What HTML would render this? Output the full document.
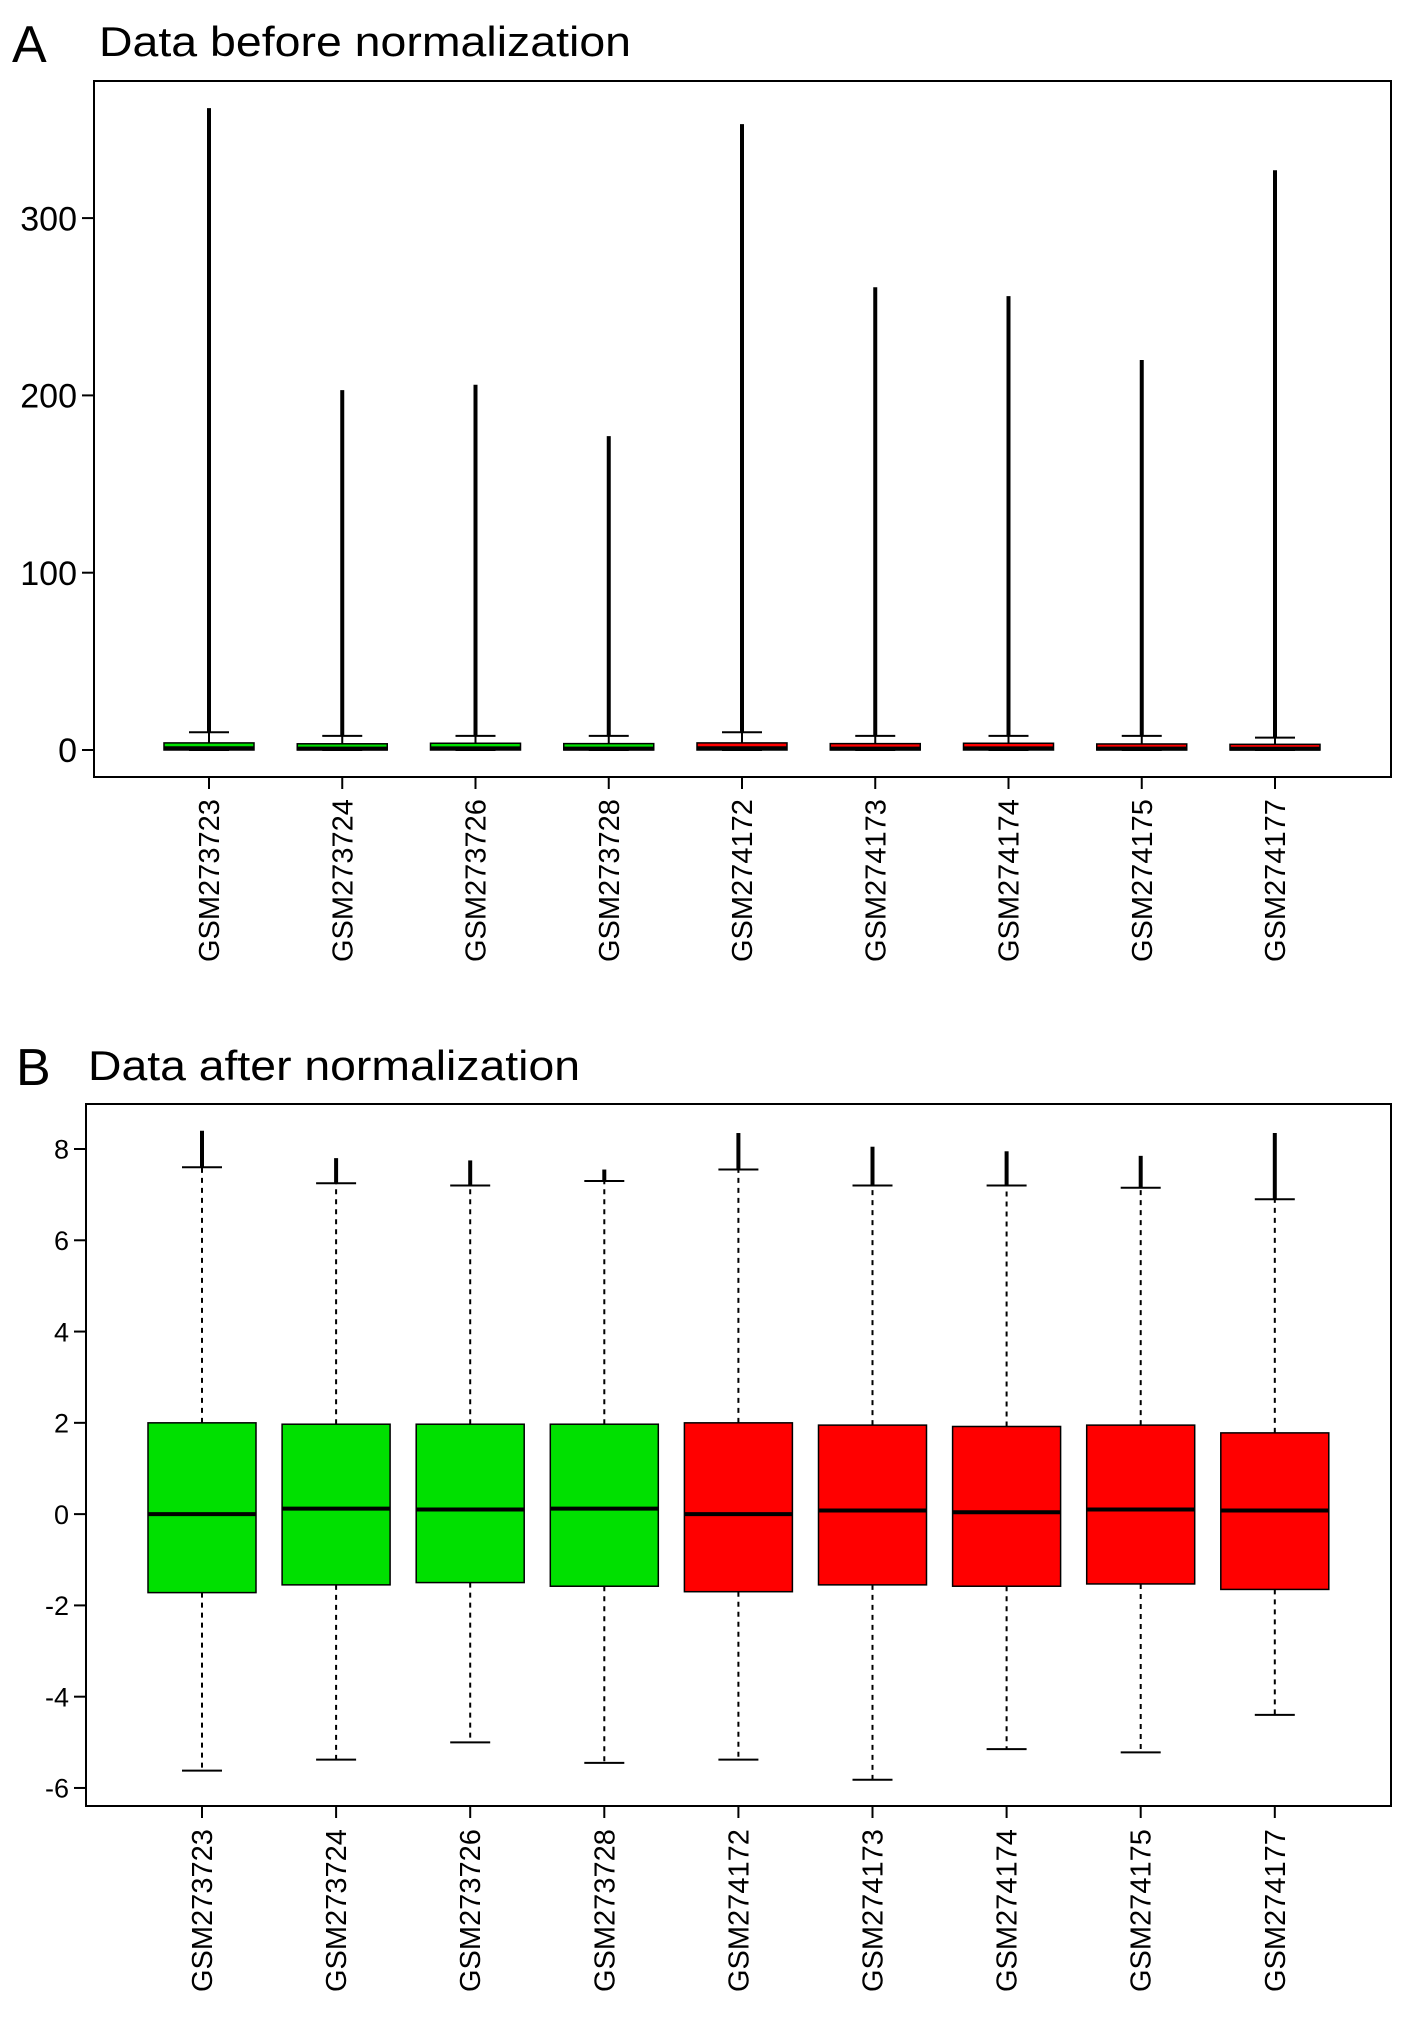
<!DOCTYPE html>
<html><head><meta charset="utf-8"><style>
html,body{margin:0;padding:0;background:#fff;}
svg{display:block;font-family:"Liberation Sans",sans-serif;}
</style></head><body>
<svg id="fig" width="1417" height="2018" viewBox="0 0 1417 2018">
<text x="12" y="62" font-size="52">A</text>
<text x="99" y="56" font-size="42" textLength="532" lengthAdjust="spacingAndGlyphs">Data before normalization</text>
<text x="16" y="1085" font-size="52">B</text>
<text x="88" y="1080" font-size="42" textLength="492" lengthAdjust="spacingAndGlyphs">Data after normalization</text>
<g id="pa"></g>
<g id="pb"></g>
</svg>
<script>
const categories=["GSM273723","GSM273724","GSM273726","GSM273728","GSM274172","GSM274173","GSM274174","GSM274175","GSM274177"];
const groupColors=["#00e000","#00e000","#00e000","#00e000","#ff0000","#ff0000","#ff0000","#ff0000","#ff0000"];
// Panel A
const aTicks=[0,100,200,300];
const aOutMax=[362,203,206,177,353,261,256,220,327];
const aWhiskHi=[10,8,8,8,10,8,8,8,7];
const aQ3=[4,3.5,3.8,3.6,4,3.6,3.8,3.4,3.2];
const aMed=[1,0.8,0.9,0.8,1,0.8,0.9,0.8,0.7];
const aQ1=[0,0,0,0,0,0,0,0,0];
const aWhiskLo=[0,0,0,0,0,0,0,0,0];
// Panel B
const bTicks=[-6,-4,-2,0,2,4,6,8];
const bOutMax=[8.4,7.8,7.75,7.55,8.35,8.05,7.95,7.85,8.35];
const bWhiskHi=[7.6,7.25,7.2,7.3,7.55,7.2,7.2,7.15,6.9];
const bQ3=[2.0,1.97,1.97,1.97,2.0,1.95,1.92,1.95,1.78];
const bMed=[0,0.12,0.1,0.12,0,0.08,0.04,0.1,0.08];
const bQ1=[-1.72,-1.55,-1.5,-1.58,-1.7,-1.55,-1.58,-1.53,-1.65];
const bWhiskLo=[-5.62,-5.38,-5.0,-5.45,-5.38,-5.82,-5.15,-5.22,-4.4];

const NS="http://www.w3.org/2000/svg";
function mk(parent,tag,attrs){const e=document.createElementNS(NS,tag);for(const k in attrs)e.setAttribute(k,attrs[k]);parent.appendChild(e);return e;}

function panel(g,cfg){
  const {x0,x1,y0,y1,first,step,yScale,ticks,tickFs,labBottom,half,capHalf,outMax,wHi,q3,med,q1,wLo,dashed,lw}=cfg;
  const frame=mk(g,'rect',{x:x0,y:y0,width:x1-x0,height:y1-y0,fill:'none',stroke:'#000','stroke-width':2});
  
  
  ticks.forEach(t=>{
    const y=yScale(t);
    const l=mk(g,'line',{x1:x0,x2:x0-12,y1:y,y2:y,stroke:'#000','stroke-width':2});
    
    
    const tx=mk(g,'text',{x:x0-17,y:y+tickFs*0.36,'font-size':tickFs,'text-anchor':'end'});
    tx.textContent=String(t);
    
    
  });
  categories.forEach((c,i)=>{
    const cx=first+i*step;
    const tk=mk(g,'line',{x1:cx,x2:cx,y1:y1,y2:y1+12,stroke:'#000','stroke-width':2});
    
    
    const lab=mk(g,'text',{x:0,y:0,'font-size':29,transform:`translate(${cx+10},${labBottom}) rotate(-90)`});
    lab.textContent=c;
    
    
    const o=mk(g,'line',{x1:cx,x2:cx,y1:yScale(wHi[i]),y2:yScale(outMax[i]),stroke:'#000','stroke-width':lw});
    
    
    const w1=mk(g,'line',{x1:cx,x2:cx,y1:yScale(q3[i]),y2:yScale(wHi[i]),stroke:'#000','stroke-width':2,'stroke-dasharray':dashed?'5,5':'none'});
    
    
    const w2=mk(g,'line',{x1:cx,x2:cx,y1:yScale(q1[i]),y2:yScale(wLo[i]),stroke:'#000','stroke-width':2,'stroke-dasharray':dashed?'5,5':'none'});
    
    
    const cap1=mk(g,'line',{x1:cx-capHalf,x2:cx+capHalf,y1:yScale(wHi[i]),y2:yScale(wHi[i]),stroke:'#000','stroke-width':2});
    
    
    const cap2=mk(g,'line',{x1:cx-capHalf,x2:cx+capHalf,y1:yScale(wLo[i]),y2:yScale(wLo[i]),stroke:'#000','stroke-width':2});
    
    
    const yt=yScale(q3[i]),yb=yScale(q1[i]);
    const b=mk(g,'rect',{x:cx-half,y:yt,width:2*half,height:Math.max(yb-yt,2),fill:groupColors[i],stroke:'#000','stroke-width':1.5});
    
    
    const m=mk(g,'line',{x1:cx-half,x2:cx+half,y1:yScale(med[i]),y2:yScale(med[i]),stroke:'#000','stroke-width':4});
    
    
  });
}
panel(document.getElementById('pa'),{x0:94,x1:1391,y0:81,y1:777,first:209,step:133.25,
  yScale:v=>750-v*1.773,ticks:aTicks,tickFs:34,labBottom:962,half:45,capHalf:20,
  outMax:aOutMax,wHi:aWhiskHi,q3:aQ3,med:aMed,q1:aQ1,wLo:aWhiskLo,dashed:false,lw:4});
panel(document.getElementById('pb'),{x0:86,x1:1391,y0:1104,y1:1806,first:202,step:134.1,
  yScale:v=>1149+(8-v)*45.64,ticks:bTicks,tickFs:27,labBottom:1992,half:54,capHalf:20,
  outMax:bOutMax,wHi:bWhiskHi,q3:bQ3,med:bMed,q1:bQ1,wLo:bWhiskLo,dashed:true,lw:4});
</script>
</body></html>
